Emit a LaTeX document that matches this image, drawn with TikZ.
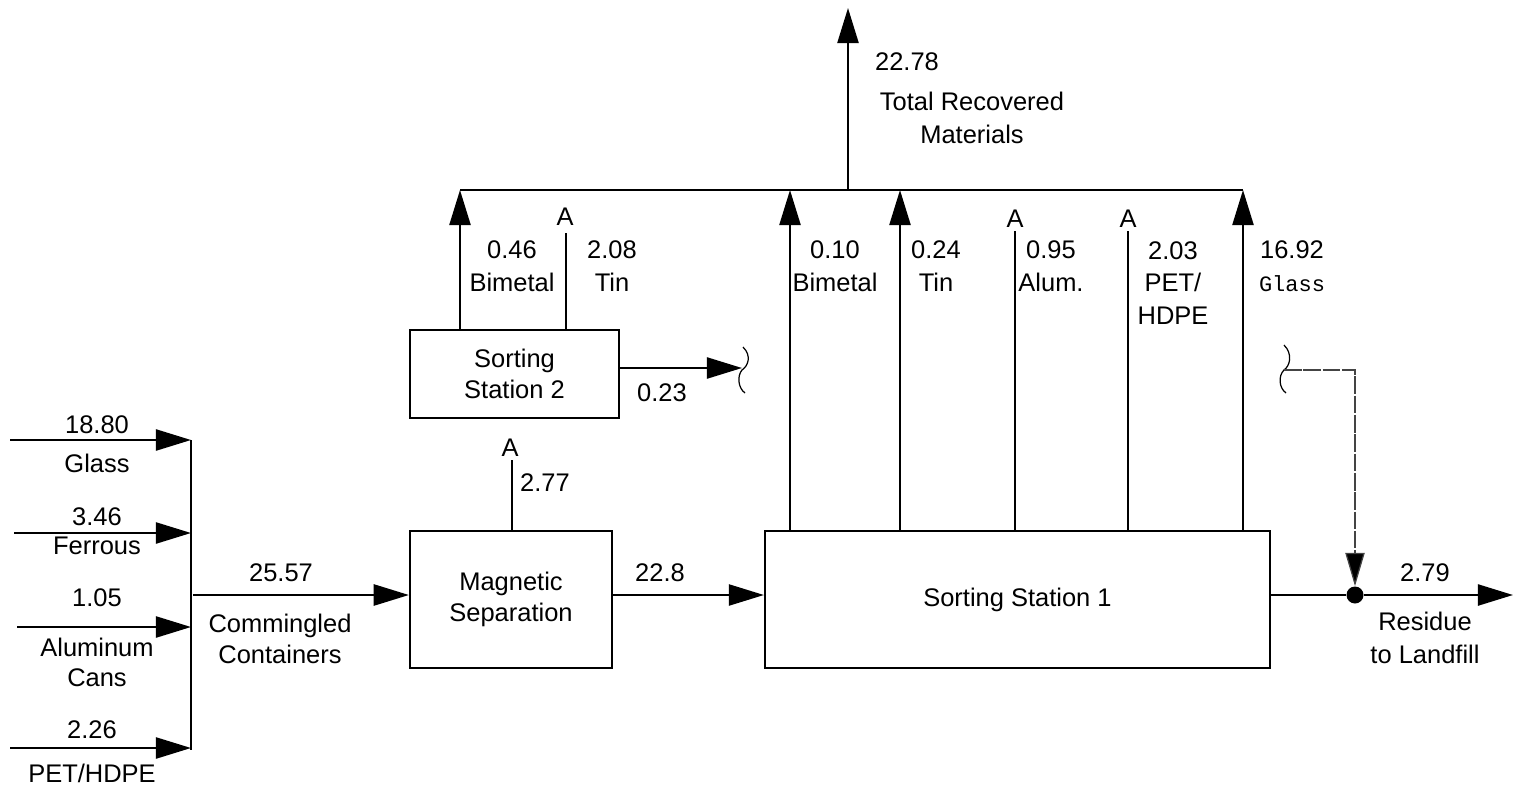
\documentclass[tikz,border=0pt]{standalone}
\usepackage{fontspec}
\setmainfont{Liberation Sans}
\newfontfamily\glassfont{Liberation Mono}
\usetikzlibrary{arrows.meta,positioning}
\definecolor{inkBlack}{HTML}{000000}
\definecolor{inkGrey}{HTML}{444444}
\tikzset{
  unit/.style={draw=inkBlack, line width=1.3pt, inner sep=0pt, align=center,
    font=\fontsize{14.5}{18}\selectfont},
  flow/.style={-{Triangle[length=20pt,width=12pt]}, line width=1.3pt, inkBlack},
  pipe/.style={line width=1.3pt, inkBlack},
  dropline/.style={-{Triangle[length=19pt,width=11pt,fill=inkBlack]}, line width=0.7pt, inkGrey,
    dash pattern=on 10pt off 1pt},
  brk/.style={line width=0.7pt, inkBlack},
  tag/.style={font=\fontsize{14.5}{18.5}\selectfont, align=center, inner sep=0pt},
}

\begin{document}
\begin{tikzpicture}[x=0.02cm, y=-0.02cm]
  \useasboundingbox (0,0) rectangle (1516,785);
  % process units
  \node[unit, minimum width=4.04cm, minimum height=2.74cm] (magsep) at (511,599.5) {Magnetic\\Separation};
  \node[unit, minimum width=10.1cm, minimum height=2.74cm] (ss1) at (1017.5,599.5) {Sorting Station 1};
  \node[unit, minimum width=4.18cm, minimum height=1.76cm] (ss2) at (514.5,374) {Sorting\\Station 2};

  % incoming streams and the mixing bus
  \coordinate (bus-top) at (191,440);
  \coordinate (bus-bot) at (191,750);
  \foreach \name/\sx/\sy in {glass/10/440, fe/14/533, al/17/627, pet/10/748} {
    \coordinate (in-\name) at (\sx,\sy);
    \draw[flow] (in-\name) -- (in-\name -| bus-top);
  }
  \draw[pipe] (bus-top) -- (bus-bot);
  \node[tag] (glass-amt) at (97,425) {18.80};
  \node[tag] (glass-lbl) at (97,463) {Glass};
  \node[tag] (fe-amt) at (97,517) {3.46};
  \node[tag] (fe-lbl) at (97,546) {Ferrous};
  \node[tag] (al-amt) at (97,598) {1.05};
  \node[tag, font=\fontsize{14.5}{17}\selectfont] (al-lbl) at (97,662) {Aluminum\\Cans};
  \node[tag] (pet-amt) at (92,730) {2.26};
  \node[tag] (pet-lbl) at (92,773) {PET/HDPE};

  \coordinate (mix) at (193,595);
  \draw[flow] (mix) -- (mix -| magsep.west);
  \node[tag] (mix-amt) at (281,573) {25.57};
  \node[tag, font=\fontsize{14.5}{17.5}\selectfont] (mix-lbl) at (280,639) {Commingled\\Containers};

  % magnetic separation outputs
  \coordinate (a-mag) at (512,460);
  \draw[pipe] (magsep.north -| a-mag) -- (a-mag);
  \node[tag] (a-mag-lbl) at (510,448) {A};
  \node[tag] (mag-amt) at (545,483) {2.77};
  \coordinate (m-out) at (612,595);
  \draw[flow] (m-out) -- (m-out -| ss1.west);
  \node[tag] (m-out-amt) at (660,573) {22.8};

  % recovered materials collector
  \coordinate (col-l) at (460,190);
  \coordinate (col-r) at (1243,190);
  \coordinate (col-mid) at (848,190);
  \coordinate (recovered) at (848,8);
  \draw[pipe] (col-l) -- (col-r);
  \draw[flow] (col-mid) -- (recovered);
  \node[tag] (rec-amt) at (907,62) {22.78};
  \node[tag] (rec-lbl) at (972,118) {Total Recovered\\Materials};

  % sorting station 2
  \draw[flow] (ss2.north -| col-l) -- (col-l);
  \coordinate (a-tin2) at (566,233);
  \draw[pipe] (ss2.north -| a-tin2) -- (a-tin2);
  \node[tag] (a-tin2-lbl) at (565,217) {A};
  \node[tag] (bim2) at (512,266) {0.46\\Bimetal};
  \node[tag] (tin2) at (612,266) {2.08\\Tin};
  \coordinate (ss2-out) at (742,368);
  \draw[flow] (ss2.east |- ss2-out) -- (ss2-out);
  \node[tag] (ss2-out-amt) at (662,393) {0.23};
  \draw[brk] (743,347) .. controls (752,356) and (748,366) .. (742,370)
    .. controls (737,376) and (738,388) .. (745,393);

  % sorting station 1
  \foreach \tx in {790, 900, 1243} {
    \coordinate (t-\tx) at (\tx,190);
    \draw[flow] (ss1.north -| t-\tx) -- (t-\tx);
  }
  \foreach \tx in {1015, 1128} {
    \coordinate (a-\tx) at (\tx,231);
    \draw[pipe] (ss1.north -| a-\tx) -- (a-\tx);
    \node[tag, above=2pt of a-\tx] (a-\tx-lbl) {A};
  }
  \node[tag] (bim1) at (835,266) {0.10\\Bimetal};
  \node[tag] (tin1) at (936,266) {0.24\\Tin};
  \node[tag] (alum1) at (1051,266) {0.95\\Alum.};
  \node[tag] (pet1) at (1173,283) {2.03\\PET/\\HDPE};
  \node[tag] (glass1) at (1292,266) {16.92\\{\glassfont\fontsize{12.5}{14}\selectfont Glass}};

  % residue to landfill
  \node[circle, fill=inkBlack, inner sep=0pt, minimum size=0.34cm] (res-dot) at (1355,595) {};
  \coordinate (landfill) at (1513,595);
  \draw[pipe] (ss1.east |- res-dot) -- (res-dot);
  \draw[flow] (res-dot) -- (landfill);
  \coordinate (brk-r) at (1284,370);
  \draw[brk] (1284,345) .. controls (1293,354) and (1290,366) .. (brk-r)
    .. controls (1278,376) and (1279,388) .. (1286,393);
  \draw[dropline] (brk-r) -| (res-dot);
  \node[tag] (res-amt) at (1425,573) {2.79};
  \node[tag] (res-lbl) at (1425,638) {Residue\\to Landfill};
\end{tikzpicture}
\end{document}
